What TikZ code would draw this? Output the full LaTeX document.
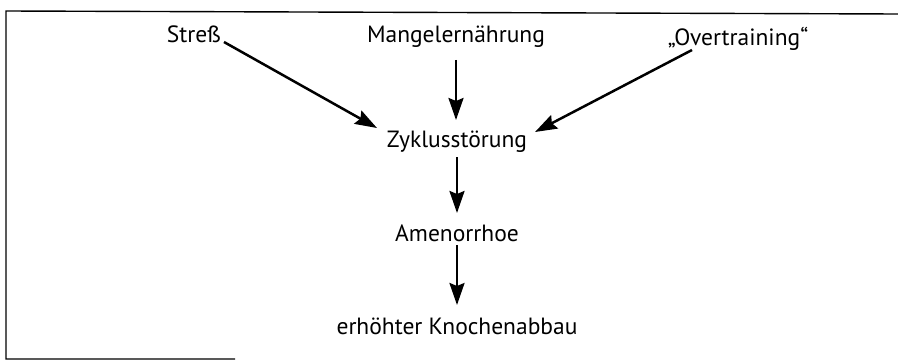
\documentclass[tikz,border=0pt]{standalone}
\usepackage{fontspec}
\setmainfont{PT Sans}
\usetikzlibrary{arrows.meta}
\begin{document}
\begin{tikzpicture}[x=1pt,y=-1pt,
  lbl/.style={inner sep=0pt,anchor=base,font=\fontsize{23.5}{26}\selectfont},
  arr/.style={line width=2.5pt,-{Stealth[length=22pt,width=15pt,inset=3pt]}},
  frame/.style={line width=1.4pt}]
\useasboundingbox (0,0) rectangle (898,361);
\node[lbl] (s) at (194,43) {Streß};
\node[lbl] (m) at (456,43) {Mangelernährung};
\node[lbl] (o) at (738,46) {„Overtraining“};
\node[lbl] (z) at (457,147) {Zyklusstörung};
\node[lbl] (a) at (457,241) {Amenorrhoe};
\node[lbl] (e) at (457,334) {erhöhter Knochenabbau};
\coordinate (tl) at (6,11);
\coordinate (tr) at (898,14);
\coordinate (bl) at (6,359);
\coordinate (br) at (235,359);
\draw[frame] (tr) -- (tl) -- (bl) -- (br);
\draw[arr] ([shift={(30,-1)}]s.base) -- ([shift={(-80,-19)}]z.base);
\draw[arr] ([shift={(0,17)}]m.base) -- ([shift={(-1,-27)}]z.base);
\draw[arr] ([shift={(-46,4)}]o.base) -- ([shift={(78,-15)}]z.base);
\draw[arr] ([shift={(0,10)}]z.base) -- ([shift={(0,-28)}]a.base);
\draw[arr] ([shift={(0,4)}]a.base) -- ([shift={(0,-29)}]e.base);
\end{tikzpicture}
\end{document}
